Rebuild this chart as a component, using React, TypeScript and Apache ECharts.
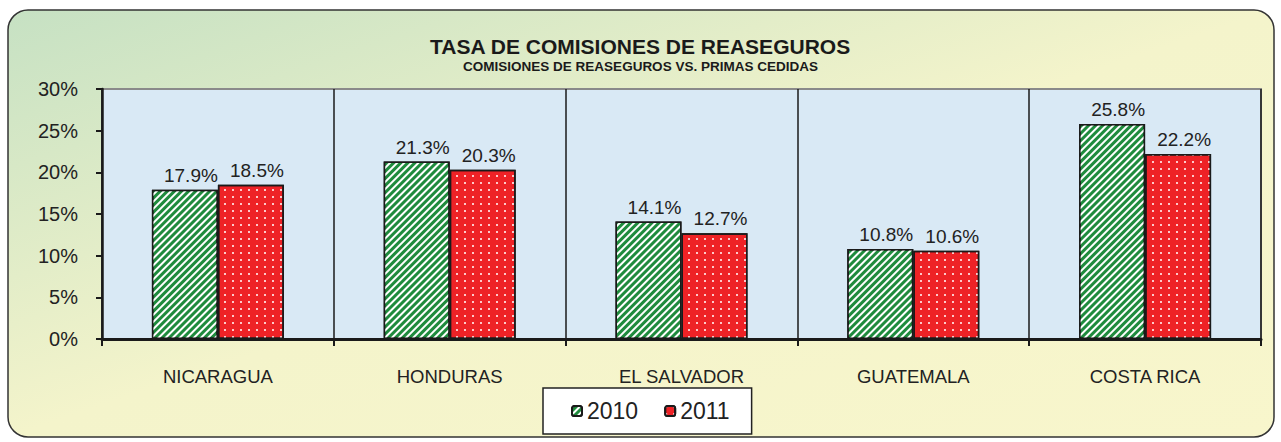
import React, { useEffect, useRef } from "react";
import * as echarts from "echarts";

const categories = ["NICARAGUA", "HONDURAS", "EL SALVADOR", "GUATEMALA", "COSTA RICA"];
const values2010 = [17.9, 21.3, 14.1, 10.8, 25.8];
const values2011 = [18.5, 20.3, 12.7, 10.6, 22.2];
const seriesNames = ["2010", "2011"];

const FONT = "'Liberation Sans', Arial, sans-serif";

export default function App() {
  const ref = useRef<HTMLDivElement>(null);
  useEffect(() => {
    if (!ref.current) return;
    const chart = echarts.init(ref.current, undefined, { renderer: "svg" });
    const label = {
      show: true,
      position: "top",
      distance: 5,
      offset: [6, 0],
      fontSize: 19,
      fontFamily: FONT,
      color: "#222",
      formatter: (p: any) => p.value.toFixed(1) + "%",
    };
    chart.setOption({
      animation: false,
      textStyle: { fontFamily: FONT },
      graphic: [
        {
          type: "rect",
          z: -10,
          silent: true,
          shape: { x: 8, y: 10, width: 1266, height: 427, r: 20 },
          style: {
            fill: new echarts.graphic.LinearGradient(0, 0, 1, 1, [
              { offset: 0, color: "#c6e1c3" },
              { offset: 0.5, color: "#f4f4cb" },
              { offset: 1, color: "#f8f6cc" },
            ]),
            stroke: "#333",
            lineWidth: 1.5,
          },
        },
        {
          type: "text",
          left: "center",
          top: 36,
          style: {
            text: "TASA DE COMISIONES DE REASEGUROS",
            font: `bold 21px ${FONT}`,
            fill: "#1a1a1a",
          },
        },
        {
          type: "text",
          left: "center",
          top: 59,
          style: {
            text: "COMISIONES DE REASEGUROS VS. PRIMAS CEDIDAS",
            font: `bold 13.5px ${FONT}`,
            fill: "#1a1a1a",
          },
        },
      ],
      legend: {
        data: seriesNames,
        left: 543,
        top: 388,
        padding: [10, 22, 10, 28],
        itemWidth: 10,
        itemHeight: 10,
        itemGap: 26,
        backgroundColor: "#ffffff",
        borderColor: "#222",
        borderWidth: 1.5,
        textStyle: { fontSize: 23, color: "#222", fontFamily: FONT, lineHeight: 26 },
      },
      grid: {
        left: 102,
        right: 20,
        top: 89,
        bottom: 103,
        show: true,
        backgroundColor: "#d9e9f5",
        borderColor: "#8a8a8a",
        borderWidth: 2,
      },
      xAxis: {
        type: "category",
        data: categories,
        axisLine: { lineStyle: { color: "#1a1a1a", width: 3 } },
        axisTick: { show: true, length: 7, lineStyle: { color: "#1a1a1a", width: 2 } },
        splitLine: { show: true, lineStyle: { color: "#1a1a1a", width: 1.5 } },
        axisLabel: { fontSize: 18.5, color: "#222", margin: 28, fontFamily: FONT },
      },
      yAxis: {
        type: "value",
        min: 0,
        max: 30,
        interval: 5,
        axisLine: { show: true, lineStyle: { color: "#1a1a1a", width: 2.5 } },
        axisTick: { show: true, length: 6, lineStyle: { color: "#1a1a1a", width: 2 } },
        splitLine: { show: false },
        axisLabel: { fontSize: 20, color: "#222", margin: 24, formatter: "{value}%", fontFamily: FONT },
      },
      series: [
        {
          name: seriesNames[0],
          type: "bar",
          data: values2010,
          barWidth: 66,
          barGap: "0%",
          itemStyle: {
            color: "#1f8b3d",
            borderColor: "#1a1a1a",
            borderWidth: 1.5,
            decal: {
              color: "#ffffff",
              symbol: "rect",
              dashArrayX: [1, 0],
              dashArrayY: [2, 3],
              rotation: -Math.PI / 4,
            },
          },
          label,
        },
        {
          name: seriesNames[1],
          type: "bar",
          data: values2011,
          barWidth: 66,
          barGap: "0%",
          itemStyle: {
            color: "#ee2226",
            borderColor: "#1a1a1a",
            borderWidth: 1.5,
            decal: {
              color: "rgba(255,220,220,0.9)",
              symbol: "rect",
              symbolSize: 1,
              dashArrayX: [2, 6],
              dashArrayY: [2, 5],
              rotation: 0,
            },
          },
          label,
        },
      ],
    });
    return () => chart.dispose();
  }, []);
  return <div ref={ref} style={{ width: 1281, height: 442, position: "absolute", left: 0, top: 0 }} />;
}
